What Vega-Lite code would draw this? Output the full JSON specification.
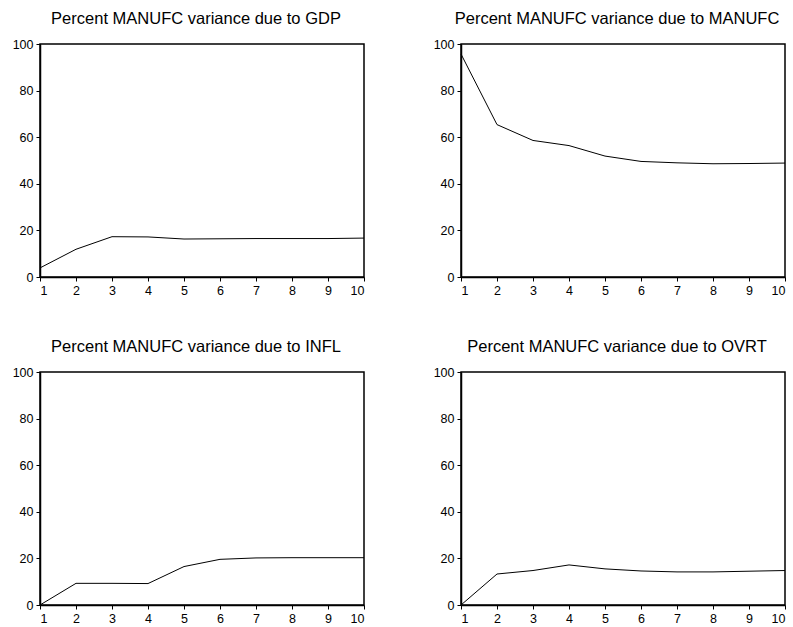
{
  "$schema": "https://vega.github.io/schema/vega-lite/v6.json",
  "padding": {"left": 11, "top": 9, "right": 5, "bottom": 0},
  "background": "white",
  "datasets": {
    "gdp": [
      {"period": 1, "percent": 3.9}, {"period": 2, "percent": 11.9}, {"period": 3, "percent": 17.3},
      {"period": 4, "percent": 17.2}, {"period": 5, "percent": 16.3}, {"period": 6, "percent": 16.4},
      {"period": 7, "percent": 16.5}, {"period": 8, "percent": 16.5}, {"period": 9, "percent": 16.5},
      {"period": 10, "percent": 16.7}
    ],
    "manufc": [
      {"period": 1, "percent": 95.7}, {"period": 2, "percent": 65.4}, {"period": 3, "percent": 58.6},
      {"period": 4, "percent": 56.4}, {"period": 5, "percent": 51.9}, {"period": 6, "percent": 49.6},
      {"period": 7, "percent": 49.0}, {"period": 8, "percent": 48.6}, {"period": 9, "percent": 48.7},
      {"period": 10, "percent": 48.9}
    ],
    "infl": [
      {"period": 1, "percent": 0.0}, {"period": 2, "percent": 9.3}, {"period": 3, "percent": 9.3},
      {"period": 4, "percent": 9.2}, {"period": 5, "percent": 16.5}, {"period": 6, "percent": 19.6},
      {"period": 7, "percent": 20.2}, {"period": 8, "percent": 20.3}, {"period": 9, "percent": 20.3},
      {"period": 10, "percent": 20.3}
    ],
    "ovrt": [
      {"period": 1, "percent": 0.0}, {"period": 2, "percent": 13.3}, {"period": 3, "percent": 14.8},
      {"period": 4, "percent": 17.2}, {"period": 5, "percent": 15.5}, {"period": 6, "percent": 14.6},
      {"period": 7, "percent": 14.2}, {"period": 8, "percent": 14.2}, {"period": 9, "percent": 14.5},
      {"period": 10, "percent": 14.8}
    ]
  },
  "columns": 2,
  "spacing": {"column": 65, "row": 39},
  "config": {
    "font": "Liberation Sans",
    "view": {"stroke": "black", "strokeWidth": 1.5},
    "title": {"fontSize": 16.5, "fontWeight": "normal", "color": "black", "offset": 11, "font": "Liberation Sans", "dx": -6},
    "axis": {
      "grid": false, "title": null, "labelFontSize": 12.5, "labelColor": "black",
      "domainColor": "black", "domainWidth": 1.5, "tickColor": "black", "tickSize": 4,
      "labelPadding": 3, "labelFont": "Liberation Sans"
    },
    "axisX": {"labelPadding": 3}
  },
  "concat": [
    {
      "title": "Percent MANUFC variance due to GDP",
      "width": 324, "height": 233,
      "data": {"name": "gdp"},
      "mark": {"type": "line", "color": "black", "strokeWidth": 1},
      "encoding": {
        "x": {"field": "period", "type": "quantitative", "scale": {"domain": [1, 10], "nice": false, "zero": false}, "axis": {"values": [1,2,3,4,5,6,7,8,9,10], "format": "d"}},
        "y": {"field": "percent", "type": "quantitative", "scale": {"domain": [0, 100], "nice": false}, "axis": {"values": [0,20,40,60,80,100]}}
      }
    },
    {
      "title": "Percent MANUFC variance due to MANUFC",
      "width": 324, "height": 233,
      "data": {"name": "manufc"},
      "mark": {"type": "line", "color": "black", "strokeWidth": 1},
      "encoding": {
        "x": {"field": "period", "type": "quantitative", "scale": {"domain": [1, 10], "nice": false, "zero": false}, "axis": {"values": [1,2,3,4,5,6,7,8,9,10], "format": "d"}},
        "y": {"field": "percent", "type": "quantitative", "scale": {"domain": [0, 100], "nice": false}, "axis": {"values": [0,20,40,60,80,100]}}
      }
    },
    {
      "title": "Percent MANUFC variance due to INFL",
      "width": 324, "height": 233,
      "data": {"name": "infl"},
      "mark": {"type": "line", "color": "black", "strokeWidth": 1},
      "encoding": {
        "x": {"field": "period", "type": "quantitative", "scale": {"domain": [1, 10], "nice": false, "zero": false}, "axis": {"values": [1,2,3,4,5,6,7,8,9,10], "format": "d"}},
        "y": {"field": "percent", "type": "quantitative", "scale": {"domain": [0, 100], "nice": false}, "axis": {"values": [0,20,40,60,80,100]}}
      }
    },
    {
      "title": "Percent MANUFC variance due to OVRT",
      "width": 324, "height": 233,
      "data": {"name": "ovrt"},
      "mark": {"type": "line", "color": "black", "strokeWidth": 1},
      "encoding": {
        "x": {"field": "period", "type": "quantitative", "scale": {"domain": [1, 10], "nice": false, "zero": false}, "axis": {"values": [1,2,3,4,5,6,7,8,9,10], "format": "d"}},
        "y": {"field": "percent", "type": "quantitative", "scale": {"domain": [0, 100], "nice": false}, "axis": {"values": [0,20,40,60,80,100]}}
      }
    }
  ]
}
